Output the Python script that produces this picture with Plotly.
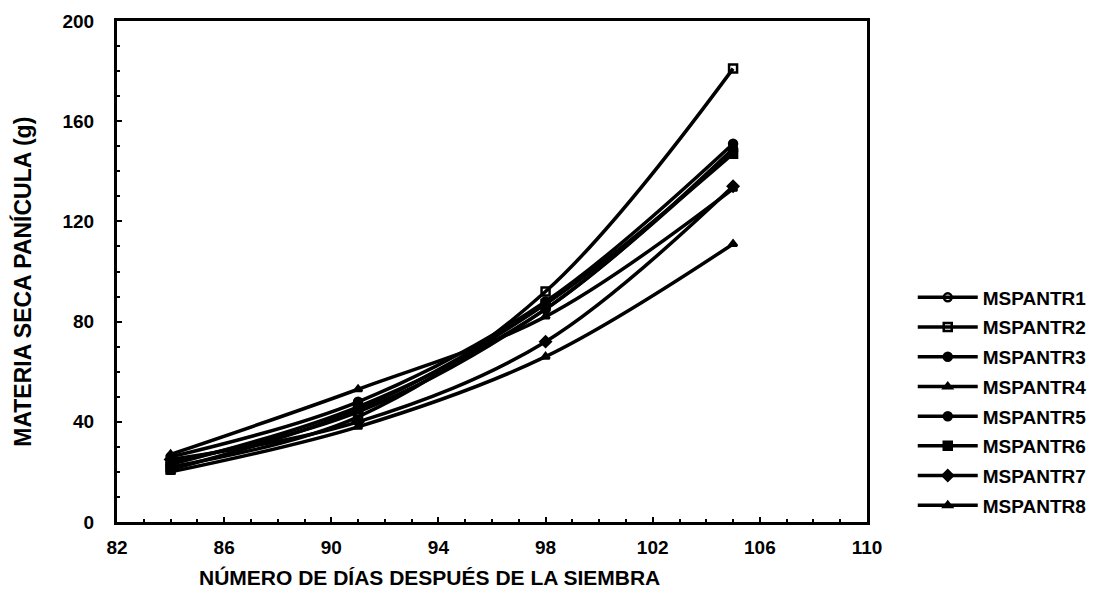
import plotly.graph_objects as go

days = [84, 91, 98, 105]
series_names = ["MSPANTR1", "MSPANTR2", "MSPANTR3", "MSPANTR4",
                "MSPANTR5", "MSPANTR6", "MSPANTR7", "MSPANTR8"]
mspantr1 = [24, 44, 85, 148]
mspantr2 = [22, 42, 92, 181]
mspantr3 = [26, 48, 88, 151]
mspantr4 = [27, 53, 82, 133]
mspantr5 = [23, 46, 85, 149]
mspantr6 = [21, 45, 87, 147]
mspantr7 = [25, 40, 72, 134]
mspantr8 = [20, 38, 66, 111]
values = [mspantr1, mspantr2, mspantr3, mspantr4,
          mspantr5, mspantr6, mspantr7, mspantr8]

x_ticks = [82, 86, 90, 94, 98, 102, 106, 110]
y_ticks = [0, 40, 80, 120, 160, 200]

symbols = ["circle-open", "square-open", "circle", "triangle-up",
           "circle", "square", "diamond", "triangle-up"]
sizes = [8, 8, 8, 7, 8, 8, 8, 7]

FONT = "Liberation Sans, Arial, sans-serif"

fig = go.Figure()
for i, (name, vals) in enumerate(zip(series_names, values)):
    fig.add_trace(go.Scatter(
        x=days, y=vals, name=name, mode="lines+markers",
        line=dict(color="black", width=3.5, shape="spline", smoothing=1.0),
        marker=dict(symbol=symbols[i], size=sizes[i], color="black",
                    line=dict(color="black", width=2.5)),
        legendgroup=name,
    ))

fig.update_layout(
    width=1104, height=587,
    margin=dict(l=109, r=245, t=13, b=73, autoexpand=False),
    paper_bgcolor="white", plot_bgcolor="white",
    font=dict(family=FONT, size=18, color="black", weight="bold"),
    showlegend=True,
    legend=dict(x=1.061, y=0.486, xanchor="left", yanchor="top",
                font=dict(family=FONT, size=19, color="black", weight="bold"),
                tracegroupgap=2, itemwidth=60, bgcolor="rgba(0,0,0,0)"),
    xaxis=dict(range=[82, 110], tickvals=x_ticks, ticktext=[str(v) for v in x_ticks],
               showgrid=False, zeroline=False, showline=True, linecolor="black",
               linewidth=3, mirror=True, ticks="inside", ticklen=5, tickwidth=2,
               tickcolor="black", ticklabelstandoff=6, automargin=False,
               minor=dict(dtick=1, ticks="inside", ticklen=3, tickwidth=1.5,
                          tickcolor="black", showgrid=False),
               tickfont=dict(family=FONT, size=19, weight="bold")),
    yaxis=dict(range=[0, 200], tickvals=y_ticks, ticktext=[str(v) for v in y_ticks],
               showgrid=False, zeroline=False, showline=True, linecolor="black",
               linewidth=3, mirror=True, ticks="inside", ticklen=5, tickwidth=2,
               tickcolor="black", ticklabelstandoff=16, automargin=False,
               minor=dict(dtick=10, ticks="inside", ticklen=3, tickwidth=1.5,
                          tickcolor="black", showgrid=False),
               tickfont=dict(family=FONT, size=19, weight="bold")),
    annotations=[
        dict(text="NÚMERO DE DÍAS DESPUÉS DE LA SIEMBRA",
             xref="paper", yref="paper", x=0.417, y=-0.11,
             xanchor="center", yanchor="middle", showarrow=False,
             font=dict(family=FONT, size=21, color="black", weight="bold")),
        dict(text="MATERIA SECA PANÍCULA (g)",
             xref="paper", yref="paper", x=-0.127, y=0.479, textangle=-90,
             xanchor="center", yanchor="middle", showarrow=False,
             font=dict(family=FONT, size=23, color="black", weight="bold")),
    ],
)

fig.write_html("out.html")
